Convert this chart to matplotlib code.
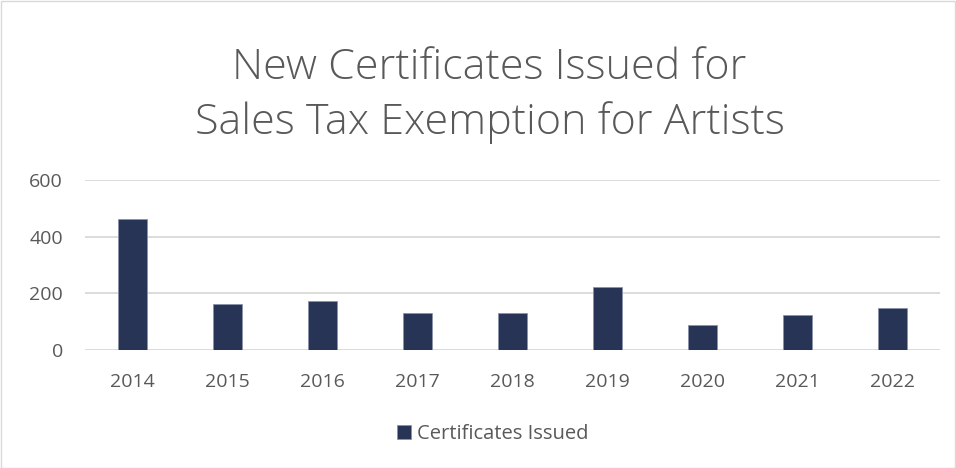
import matplotlib.pyplot as plt
from matplotlib.patches import Rectangle

years = ["2014", "2015", "2016", "2017", "2018", "2019", "2020", "2021", "2022"]
certificates = [462, 162, 172, 131, 132, 222, 90, 125, 150]
yticks = [0, 200, 400, 600]

plt.rcParams['font.family'] = ['Open Sans', 'DejaVu Sans']

fig = plt.figure(figsize=(9.56, 4.68), dpi=100)
ax = fig.add_axes([85 / 956, 118 / 468, 855 / 956, 170 / 468])

x = range(len(years))
ax.bar(x, certificates, width=0.31, color='#283456', edgecolor='#8a93aa', linewidth=0.6,
       label='Certificates Issued', zorder=3)

ax.set_xlim(-0.5, len(years) - 0.5)
ax.set_ylim(0, 600)
ax.set_yticks(yticks)
ax.set_xticks(list(x))
ax.set_xticklabels(years)
ax.yaxis.grid(True, color='#d9d9d9', linewidth=1.3, zorder=0)
for s in ax.spines.values():
    s.set_visible(False)
ax.tick_params(axis='both', length=0, labelsize=14, labelcolor='#595959')
ax.tick_params(axis='x', pad=16.5)
ax.tick_params(axis='y', pad=16)

fig.text(0.512, 0.797, "New Certificates Issued for\nSales Tax Exemption for Artists",
         ha='center', va='center', fontsize=31, color='#595959', linespacing=1.38,
         fontweight='light')

fig.legend(loc='center', bbox_to_anchor=(0.515, 1 - 434 / 468), frameon=False,
           fontsize=14.5, labelcolor='#595959', handlelength=0.7, handleheight=0.7,
           handletextpad=0.3)

fig.patches.append(Rectangle((0.001, 0.001), 0.998, 0.997, transform=fig.transFigure,
                             fill=False, edgecolor='#d9d9d9', linewidth=1))

fig.savefig('out.png', dpi=100)
